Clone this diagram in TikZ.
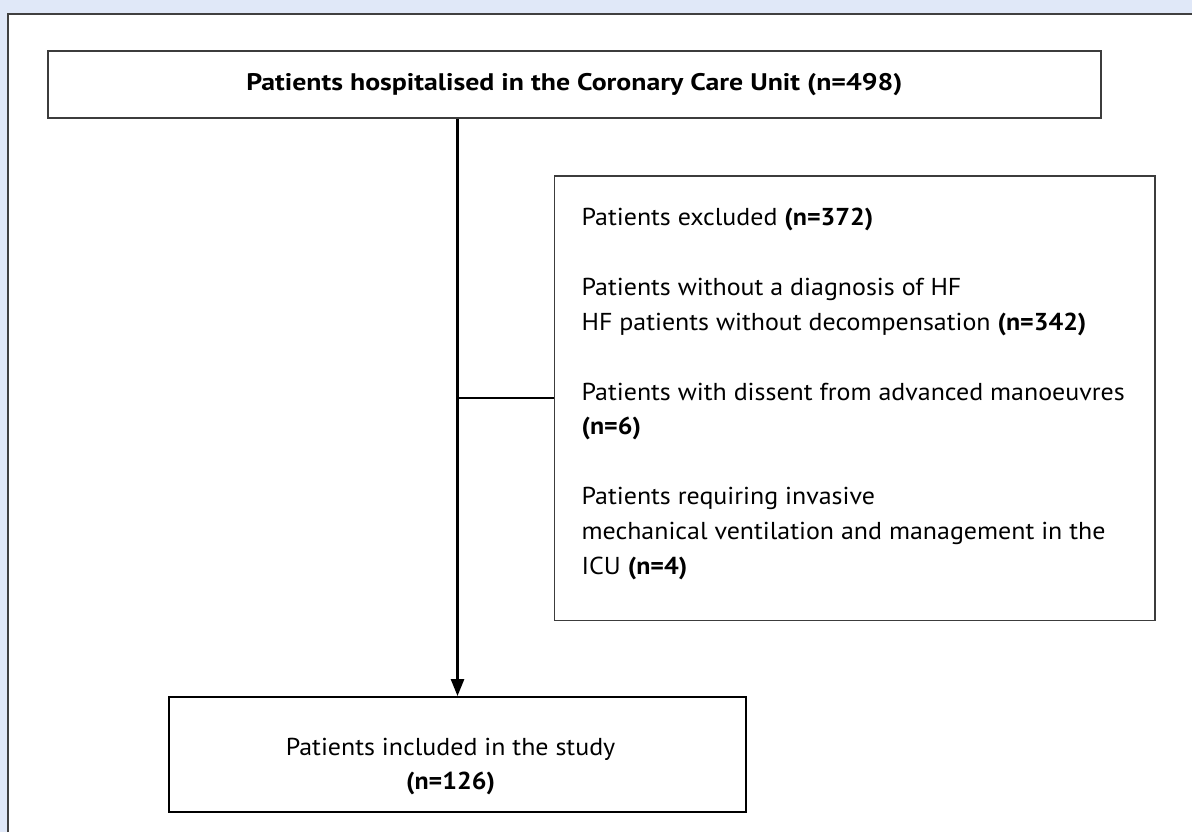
\documentclass[tikz,border=0pt]{standalone}
\usepackage{fontspec}
\setmainfont{PT Sans}[FakeStretch=1.06]
\newfontfamily\titlefont{PT Sans}[FakeStretch=1.16]
\usetikzlibrary{arrows.meta}
\definecolor{pagebg}{RGB}{224,232,248}
\definecolor{pageedge}{RGB}{64,64,64}
\definecolor{boxedge}{RGB}{60,60,60}
\begin{document}
\begin{tikzpicture}[x=1pt,y=-1pt,
  flowbox/.style={draw=black, line width=2.4pt, inner sep=0pt},
  topbox/.style={draw=boxedge, line width=2pt, inner sep=0pt,
    font=\titlefont\fontsize{24}{28}\selectfont\bfseries},
  exclbox/.style={draw=boxedge, line width=1.6pt, inner sep=0pt},
  exline/.style={anchor=base west, inner sep=0pt, font=\fontsize{24.5}{35}\selectfont},
  inline/.style={anchor=base, inner sep=0pt, font=\fontsize{24.5}{35}\selectfont},
  link/.style={draw=black, line width=2.6pt},
  flowarrow/.style={link, -{Triangle[length=17pt, width=13pt]}}]
% page background and framed sheet
\fill[pagebg] (0,0) rectangle (1193,833);
\fill[white] (8,14) rectangle (1193,833);
\draw[pageedge, line width=2.5pt] (8,833) -- (8,14) -- (1193,14);
\useasboundingbox (0,0) rectangle (1193,833);

% boxes
\node[topbox, minimum width=1054pt, minimum height=67pt] (top) at (575,84.5)
  {Patients hospitalised in the Coronary Care Unit (n=498)};
\node[exclbox, minimum width=601pt, minimum height=445pt] (excl) at (855.5,398.5) {};
\node[flowbox, minimum width=578pt, minimum height=115pt] (incl) at (458,755.5) {};

% exclusion details
\node[exline] (e1) at (582,226) {Patients excluded \textbf{(n=372)}};
\node[exline] (e2) at (582,296) {Patients without a diagnosis of HF};
\node[exline] (e3) at (582,331) {HF patients without decompensation \textbf{(n=342)}};
\node[exline] (e4) at (582,401) {Patients with dissent from advanced manoeuvres};
\node[exline] (e5) at (582,435) {\textbf{(n=6)}};
\node[exline] (e6) at (582,505) {Patients requiring invasive};
\node[exline] (e7) at (582,540) {mechanical ventilation and management in the};
\node[exline] (e8) at (582,575) {ICU \textbf{(n=4)}};

% included patients
\node[inline] (i1) at (451,756) {Patients included in the study};
\node[inline] (i2) at (451,790) {\textbf{(n=126)}};

% connectors
\draw[flowarrow] (top.south -| incl.north) -- (incl.north);
\draw[link] (excl.west) -- (excl.west -| incl.north);
\end{tikzpicture}
\end{document}
